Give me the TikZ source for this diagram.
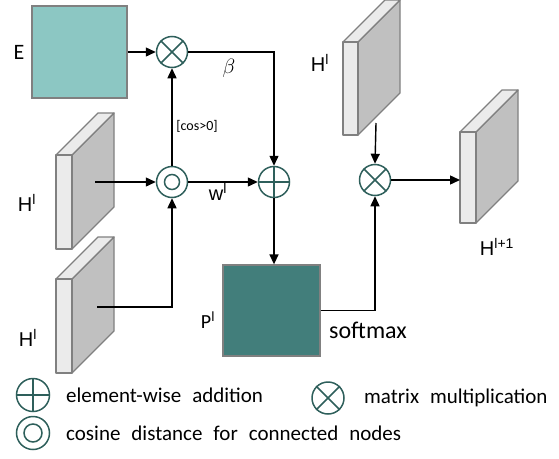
\documentclass[tikz,border=0pt]{standalone}
\usepackage{fontspec}
\setmainfont{Carlito}
\newfontfamily\arialf{Liberation Sans}
\usetikzlibrary{arrows.meta}
\definecolor{opteal}{HTML}{2E5F5B}
\definecolor{lightteal}{HTML}{8CC7C3}
\definecolor{darkteal}{HTML}{427E7B}
\definecolor{slablight}{HTML}{EBEBEB}
\definecolor{slabdark}{HTML}{C0C0C0}
\definecolor{edgegray}{HTML}{808080}
\newcommand\slabdraw[4]{% x, y (front top-left), width, height
  \filldraw[slabedge, fill=slabdark] (#1+#3,#2) -- ++(42,-42) -- ++(0,#4) -- ++(-42,42) -- cycle;
  \filldraw[slabedge, fill=slablight] (#1,#2) -- ++(#3,0) -- ++(42,-42) -- ++(-#3,0) -- cycle;
  \filldraw[slabedge, fill=slablight] (#1,#2) rectangle ++(#3,#4);
}
\newcommand\legtext[1]{{\spaceskip=11pt plus 2pt\relax #1}}
\begin{document}
\begin{tikzpicture}[x=1pt,y=-1pt,
  slabedge/.style={draw=edgegray, line width=1.3pt, line join=round},
  opcirc/.style={circle, draw=opteal, line width=1.5pt, minimum size=31pt, inner sep=0pt},
  legcirc/.style={circle, draw=opteal, line width=1.5pt, minimum size=33pt, inner sep=0pt},
  opline/.style={draw=opteal, line width=1.5pt},
  box/.style={draw=edgegray, line width=1.3pt, inner sep=0pt},
  arr/.style={line width=1.4pt, -{Triangle[length=10pt,width=9pt]}},
  lab/.style={font=\arialf\fontsize{20}{24}\selectfont, inner sep=0pt},
  clab/.style={font=\fontsize{22}{26}\selectfont, inner sep=0pt},
  leg/.style={font=\fontsize{21}{25}\selectfont, anchor=west, inner sep=0pt},
]
\useasboundingbox (0,0) rectangle (559,458);

% slabs
\slabdraw{56}{155}{16}{94}
\slabdraw{56}{279}{16}{94}
\slabdraw{343}{42}{15}{93}
\slabdraw{460}{132}{16}{91}
\coordinate (s1out) at (95,182);
\coordinate (s2out) at (97,307);
\coordinate (s3out) at (376,123);
\coordinate (s4in) at (460,180);

% boxes
\node[box, fill=lightteal, minimum width=95pt, minimum height=92pt] (E) at (79.5,52) {};
\node[box, fill=darkteal, minimum width=97pt, minimum height=91pt] (P) at (271.5,310.5) {};

% operators
\node[opcirc] (mul1) at (172,52) {};
\draw[opline] (mul1.north west) -- (mul1.south east) (mul1.north east) -- (mul1.south west);
\node[opcirc] (cos) at (172,182) {};
\draw[opline] (cos) circle[radius=7.5pt];
\node[opcirc] (add) at (274,182) {};
\draw[opline] (add.north) -- (add.south) (add.west) -- (add.east);
\node[opcirc] (mul2) at (375,180) {};
\draw[opline] (mul2.north west) -- (mul2.south east) (mul2.north east) -- (mul2.south west);

% connectors
\draw[arr] (E.east |- mul1.west) -- (mul1.west);
\draw[arr] (mul1.east) -| (add.north);
\draw[arr] (cos.north) -- (mul1.south);
\draw[arr] (s1out) -- (cos.west);
\draw[arr] (s2out) -| (cos.south);
\draw[arr] (cos.east) -- (add.west);
\draw[arr] (add.south) -- (add.south |- P.north);
\draw[arr] (P.east) -| (mul2.south);
\draw[arr] (s3out) -- (mul2.north);
\draw[arr] (mul2.east) -- (s4in);

% labels
\node[clab] (lE) at (19,52) {E};
\node[lab] (lH1) at (27,203) {H\textsuperscript{l}};
\node[lab] (lH2) at (28,338) {H\textsuperscript{l}};
\node[lab] (lH3) at (320,63) {H\textsuperscript{l}};
\node[lab] (lH4) at (497,247) {H\textsuperscript{l+1}};
\node[clab, font=\fontsize{20}{24}\selectfont] (lP) at (208,320) {P\textsuperscript{l}};
\node[inner sep=0pt, font=\fontsize{20}{24}\selectfont] (lbeta) at (229,68) {$\beta$};
\node[inner sep=0pt, font=\fontsize{14}{16}\selectfont] (lcos) at (197,126) {[cos>0]};
\node[lab] (lw) at (218,192) {w\textsuperscript{l}};
\node[inner sep=0pt, anchor=west, font=\fontsize{24}{28}\selectfont] (lsoft) at (329,330) {softmax};

% legend
\node[legcirc] (gadd) at (33,395) {};
\draw[opline] (gadd.north) -- (gadd.south) (gadd.west) -- (gadd.east);
\node[leg] (tadd) at (66,395) {\legtext{element-wise addition}};
\node[legcirc] (gcos) at (33,433) {};
\draw[opline] (gcos) circle[radius=9pt];
\node[leg] (tcos) at (66,433) {\legtext{cosine distance for connected nodes}};
\node[legcirc, minimum size=32pt] (gmul) at (328,398) {};
\draw[opline] (gmul.north west) -- (gmul.south east) (gmul.north east) -- (gmul.south west);
\node[leg] (tmul) at (364,398) {\legtext{matrix multiplication}};
\end{tikzpicture}
\end{document}
